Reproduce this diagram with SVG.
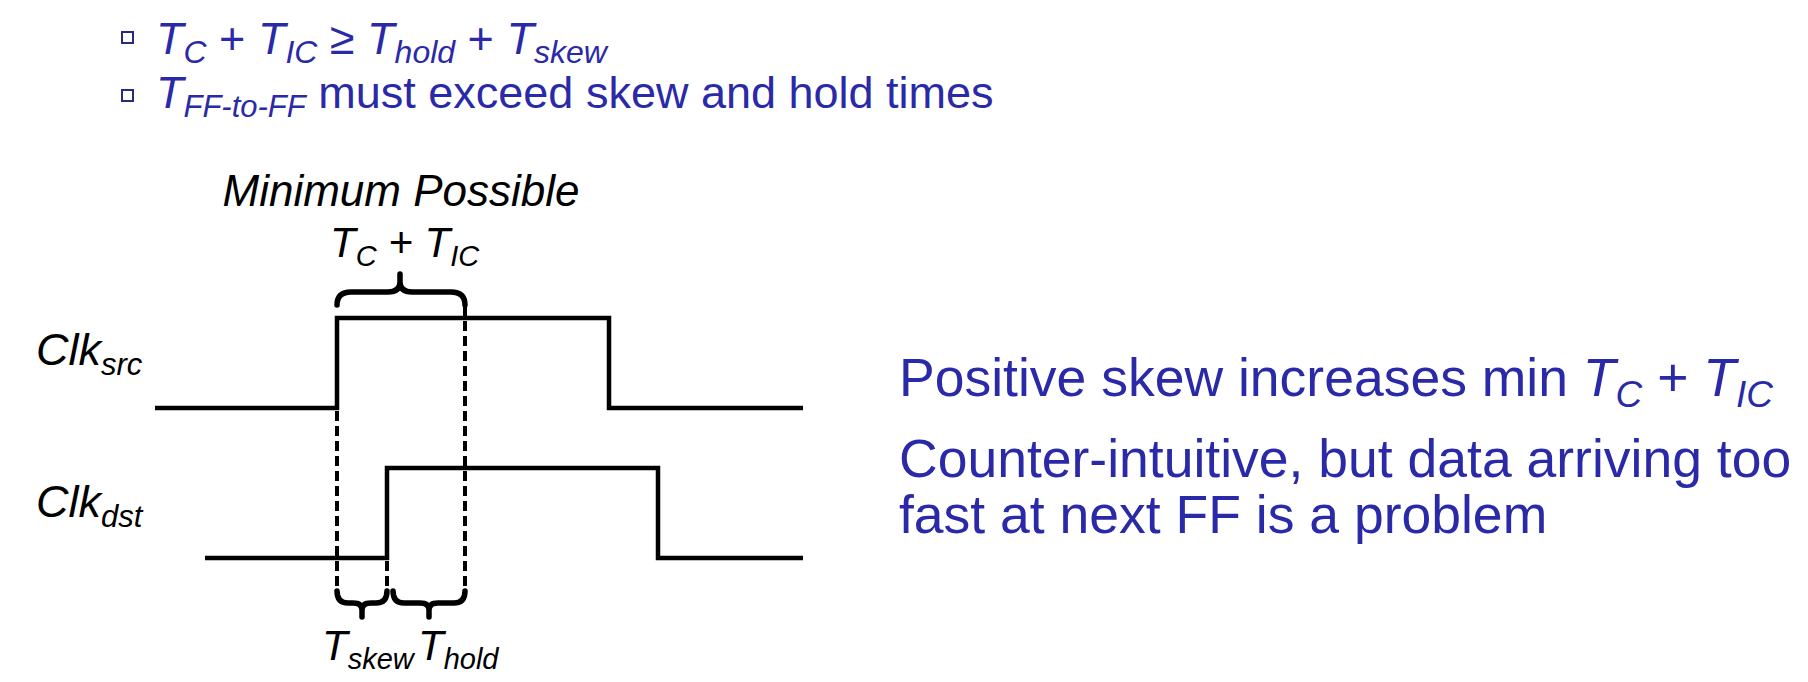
<svg xmlns="http://www.w3.org/2000/svg" width="1808" height="682" viewBox="0 0 1808 682">
  <style>
    .blue { fill: #2a2aa8; font-family: "Liberation Sans", Arial, sans-serif; }
    .blk { fill: #000; font-family: "Liberation Sans", Arial, sans-serif; font-style: italic; }
    .it { font-style: italic; }
    .wave { fill: none; stroke: #000; stroke-width: 4.5; stroke-linejoin: miter; }
    .dash { fill: none; stroke: #000; stroke-width: 4; stroke-dasharray: 10 5; }
    .brace { fill: none; stroke: #000; stroke-width: 5.5; stroke-linecap: round; stroke-linejoin: round; }
    .bullet { fill: #fff; stroke: #2a2a7a; stroke-width: 2; }
  </style>
  <rect width="1808" height="682" fill="#fff"/>

  <!-- bullet list -->
  <g id="bullets">
    <rect class="bullet" x="122" y="32" width="11" height="11"/>
    <text class="blue" font-size="45" y="54">
      <tspan class="it" x="156">T</tspan><tspan class="it" font-size="32" y="63">C</tspan><tspan y="54"> + </tspan><tspan class="it" y="54">T</tspan><tspan class="it" font-size="32" y="63">IC</tspan><tspan y="54"> ≥ </tspan><tspan class="it" y="54">T</tspan><tspan class="it" font-size="32" y="63">hold</tspan><tspan y="54"> + </tspan><tspan class="it" y="54">T</tspan><tspan class="it" font-size="32" y="63">skew</tspan>
    </text>
    <rect class="bullet" x="122" y="90" width="11" height="11"/>
    <text class="blue" font-size="45" y="108">
      <tspan class="it" x="156">T</tspan><tspan class="it" font-size="31" y="117">FF-to-FF</tspan><tspan y="108"> must exceed skew and hold times</tspan>
    </text>
  </g>

  <!-- labels above the clocks -->
  <g id="label-min">
    <text class="blk" font-size="44" x="401" y="206" text-anchor="middle">Minimum Possible</text>
    <text class="blk" font-size="42" y="257"><tspan x="330">T</tspan><tspan font-size="29" y="266">C</tspan><tspan y="257"> + T</tspan><tspan font-size="29" y="266">IC</tspan></text>
  </g>

  <!-- clock names and waveforms -->
  <g id="clk-src">
    <text class="blk" font-size="45" y="365"><tspan x="36">Clk</tspan><tspan font-size="31" y="375">src</tspan></text>
    <path class="wave" d="M155,408 H337 V318 H609 V408 H803"/>
  </g>
  <g id="clk-dst">
    <text class="blk" font-size="45" y="517"><tspan x="36">Clk</tspan><tspan font-size="31" y="527">dst</tspan></text>
    <path class="wave" d="M205,558 H387 V468 H658 V558 H803"/>
  </g>

  <!-- timing markers -->
  <g id="connectors">
    <line class="dash" x1="337" y1="411" x2="337" y2="590"/>
    <line class="dash" x1="387" y1="561" x2="387" y2="590"/>
    <line class="dash" x1="465" y1="306" x2="465" y2="590"/>
    <!-- overbrace for Tc + Tic -->
    <path class="brace" d="M337,305 Q337,292 351,292 L388,292 Q400,292 400,282 L400,274 M400,282 Q400,292 412,292 L451,292 Q465,292 465,305"/>
    <!-- underbraces for Tskew and Thold -->
    <path class="brace" d="M337,591 Q337,603 348,603 L353,603 Q362,603 362,610 L362,617 M362,610 Q362,603 371,603 L376,603 Q387,603 387,591"/>
    <path class="brace" d="M393,591 Q393,603 404,603 L420,603 Q429,603 429,610 L429,617 M429,610 Q429,603 438,603 L454,603 Q465,603 465,591"/>
  </g>

  <g id="label-skew">
    <text class="blk" font-size="42" y="660"><tspan x="322">T</tspan><tspan font-size="29" y="669">skew</tspan></text>
  </g>
  <g id="label-hold">
    <text class="blk" font-size="42" y="660"><tspan x="418">T</tspan><tspan font-size="29" y="669">hold</tspan></text>
  </g>

  <!-- notes on the right -->
  <g id="notes">
    <text class="blue" font-size="53.5" y="396"><tspan x="899">Positive skew increases min </tspan><tspan class="it">T</tspan><tspan class="it" font-size="37" y="407">C</tspan><tspan y="396"> + </tspan><tspan class="it">T</tspan><tspan class="it" font-size="37" y="407">IC</tspan></text>
    <text class="blue" font-size="53.5" x="899" y="477">Counter-intuitive, but data arriving too</text>
    <text class="blue" font-size="53.5" x="899" y="533">fast at next FF is a problem</text>
  </g>
</svg>
